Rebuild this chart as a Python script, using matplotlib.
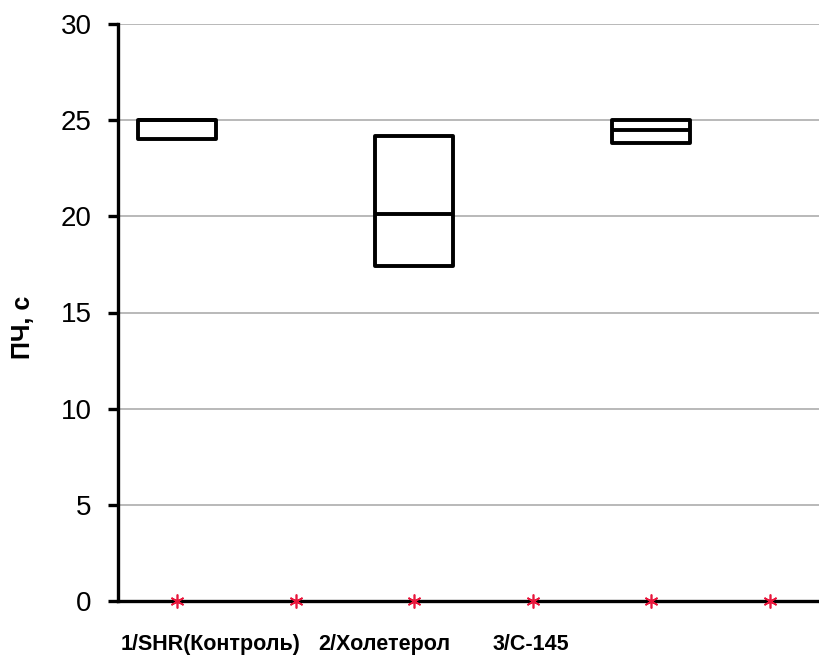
import numpy as np
import matplotlib.pyplot as plt

plt.rcParams['font.family'] = ['Liberation Sans', 'DejaVu Sans']

# data
slots = [0, 1, 2, 3, 4, 5]
star_values = [0, 0, 0, 0, 0, 0]
box_slots = [0, 2, 4]
box_low = [24.0, 17.4, 23.8]
box_high = [25.0, 24.2, 25.0]
box_mid = [25.0, 20.1, 24.5]
group_labels = ['1/SHR(Контроль)', '2/Холетерол', '3/C-145']
label_x = [0.28, 1.75, 2.98]
y_ticks = [0, 5, 10, 15, 20, 25, 30]

my_dpi = 100
fig = plt.figure(figsize=(820/my_dpi, 660/my_dpi), dpi=my_dpi)
ax = fig.add_axes([118/820, 1-601/660, 711/820, 577/660])

ax.set_ylim(0, 30)
ax.set_xlim(-0.5, 5.5)
ax.set_yticks(y_ticks)
ax.yaxis.grid(True, color='#a6a6a6', linewidth=1.1)
ax.set_axisbelow(True)

low = np.array(box_low)
high = np.array(box_high)
ax.bar(box_slots, high - low, bottom=low, width=0.66,
       facecolor='white', edgecolor='black', linewidth=2.8,
       joinstyle='round', zorder=3)
ax.hlines(box_mid, np.array(box_slots) - 0.33, np.array(box_slots) + 0.33,
          colors='black', linewidth=2.8, zorder=4)

ax.plot(slots, star_values, linestyle='none', marker=(6, 2, 0),
        markersize=10, markeredgewidth=1.2, color='#e8173c',
        clip_on=False, zorder=6)

for sp in ['top', 'right']:
    ax.spines[sp].set_visible(False)
for sp in ['left', 'bottom']:
    ax.spines[sp].set_linewidth(2.4)
ax.spines['left'].set_zorder(5)
ax.spines['bottom'].set_zorder(5)

ax.tick_params(axis='y', direction='out', length=7, width=2.4,
               labelsize=20, pad=12)
ax.set_xticks([])

ax.set_ylabel('ПЧ, с', fontsize=18, fontweight='bold')
ax.yaxis.set_label_coords(-0.117, 0.475)

for x, lab in zip(label_x, group_labels):
    ax.text(x, -0.075, lab, transform=ax.get_xaxis_transform(),
            ha='center', va='center', fontsize=15.5, fontweight='bold')

fig.savefig('out.png', dpi=my_dpi)
